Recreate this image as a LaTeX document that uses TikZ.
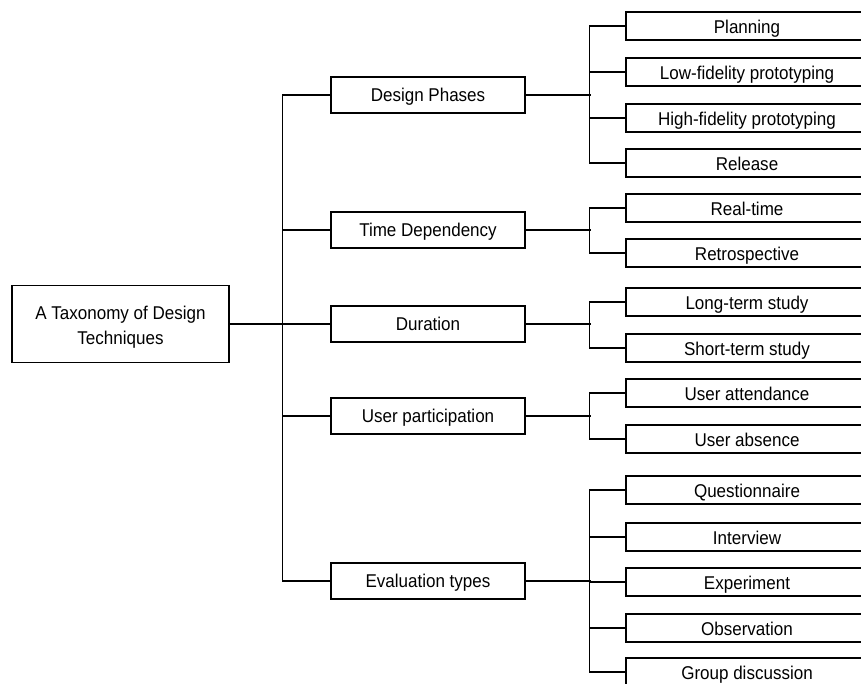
\documentclass[tikz,border=0pt]{standalone}
\usepackage{fontspec}
\setmainfont[FakeStretch=0.92]{Liberation Sans}
\begin{document}
\begin{tikzpicture}[x=1pt,y=-1pt]
		\tikzset{box/.style = {shape=rectangle, draw, line width=1.5pt, inner sep=0pt, font=\fontsize{18.5}{25}\selectfont},
			rootbox/.style = {box, minimum width=217pt, minimum height=77pt, align=center},
			branch/.style = {box, minimum width=194pt, minimum height=36pt, text height=13.5pt, text depth=0pt},
			leaf/.style = {box, minimum width=242pt, minimum height=28pt, text height=14.5pt, text depth=0pt},
			link/.style = {line width=1.5pt}}

		\useasboundingbox (0,0) rectangle (861,684);
		\clip (0,0) rectangle (861,684);

		\node[rootbox] (root) at (120.5,324) {\rule{0pt}{20pt}A Taxonomy of Design\\Techniques};

		\node[branch] (phases) at (428,95) {Design Phases};
		\node[branch] (time) at (428,230) {Time Dependency};
		\node[branch] (duration) at (428,324) {Duration};
		\node[branch] (user) at (428,416) {User participation};
		\node[branch] (eval) at (428,581) {Evaluation types};

		\node[leaf] (P_1) at (747,26) {Planning};
		\node[leaf] (P_2) at (747,72) {Low-fidelity prototyping};
		\node[leaf] (P_3) at (747,118) {High-fidelity prototyping};
		\node[leaf] (P_4) at (747,163) {Release};

		\node[leaf] (T_1) at (747,208) {Real-time};
		\node[leaf] (T_2) at (747,253) {Retrospective};

		\node[leaf] (D_1) at (747,302) {Long-term study};
		\node[leaf] (D_2) at (747,348) {Short-term study};

		\node[leaf] (U_1) at (747,393) {User attendance};
		\node[leaf] (U_2) at (747,439) {User absence};

		\node[leaf] (E_1) at (747,490) {Questionnaire};
		\node[leaf] (E_2) at (747,537) {Interview};
		\node[leaf] (E_3) at (747,582) {Experiment};
		\node[leaf] (E_4) at (747,628) {Observation};
		\node[leaf] (E_5) at (747,672) {Group discussion};


		% trunk
		\draw[link] (root.east)--(duration.west);
		\draw[link] (phases.west)--++(-48,0) |- (eval.west);
		\draw[link] (time.west)--++(-48,0);
		\draw[link] (user.west)--++(-48,0);


		% design phases
		\draw[link] (phases.east)--++(65,0);
		\draw[link] (P_1.west)--++(-36,0) |- (P_4.west);
		\draw[link] (P_2.west)--++(-36,0);
		\draw[link] (P_3.west)--++(-36,0);

		% time dependency
		\draw[link] (time.east)--++(65,0);
		\draw[link] (T_1.west)--++(-36,0) |- (T_2.west);

		% duration
		\draw[link] (duration.east)--++(65,0);
		\draw[link] (D_1.west)--++(-36,0) |- (D_2.west);

		% user participation
		\draw[link] (user.east)--++(65,0);
		\draw[link] (U_1.west)--++(-36,0) |- (U_2.west);

		% evaluation types
		\draw[link] (eval.east)--++(65,0);
		\draw[link] (E_1.west)--++(-36,0) |- (E_5.west);
		\draw[link] (E_2.west)--++(-36,0);
		\draw[link] (E_3.west)--++(-36,0);
		\draw[link] (E_4.west)--++(-36,0);

	\end{tikzpicture}
\end{document}
